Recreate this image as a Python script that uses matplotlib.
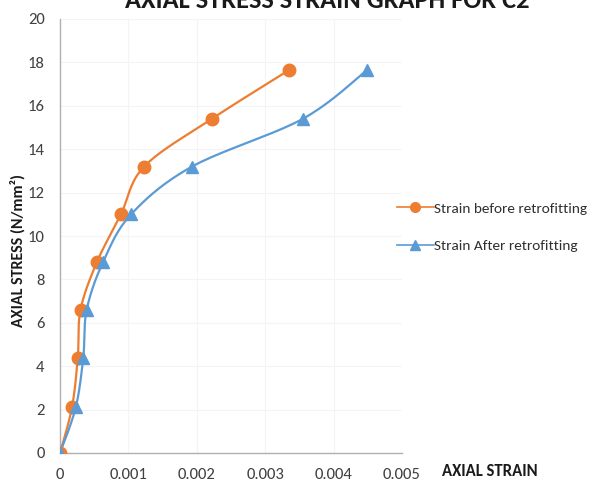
import numpy as np
import matplotlib
matplotlib.use("Agg")
import matplotlib.pyplot as plt
from matplotlib import font_manager

installed = {f.name for f in font_manager.fontManager.ttflist}
_preferred = ['Carlito', 'Calibri', 'Liberation Sans Narrow', 'Roboto Condensed',
              'Open Sans Condensed', 'Arial Narrow', 'DejaVu Sans']
FONT = next(f for f in _preferred if f in installed)
plt.rcParams['font.family'] = [FONT, 'DejaVu Sans']

stress = [0, 2.1, 4.4, 6.6, 8.8, 11.0, 13.2, 15.4, 17.65]
strain_before = [0, 0.000175, 0.00026, 0.0003, 0.00054, 0.00089, 0.00123, 0.00222, 0.00335]
strain_after = [0, 0.00023, 0.00034, 0.00039, 0.00063, 0.00104, 0.00193, 0.00355, 0.00449]
x_ticks = [0, 0.001, 0.002, 0.003, 0.004, 0.005]
x_tick_labels = ['0', '0.001', '0.002', '0.003', '0.004', '0.005']
y_ticks = [0, 2, 4, 6, 8, 10, 12, 14, 16, 18, 20]

ORANGE = '#ED7D31'
BLUE = '#5B9BD5'


def smooth(xs, ys, n=20):
    """Catmull-Rom curve through the given points (smoothed line style)."""
    p = np.column_stack([xs, ys]).astype(float)
    sx = 1.0 / 0.005
    sy = 1.0 / 20.0
    p[:, 0] *= sx
    p[:, 1] *= sy
    pts = np.vstack([p[0], p, p[-1]])
    out = []
    for i in range(1, len(pts) - 2):
        p0, p1, p2, p3 = pts[i - 1], pts[i], pts[i + 1], pts[i + 2]
        t = np.linspace(0, 1, n, endpoint=False)[:, None]
        seg = 0.5 * ((2 * p1) + (-p0 + p2) * t +
                     (2 * p0 - 5 * p1 + 4 * p2 - p3) * t ** 2 +
                     (-p0 + 3 * p1 - 3 * p2 + p3) * t ** 3)
        out.append(seg)
    out.append(p[-1][None, :])
    c = np.vstack(out)
    return c[:, 0] / sx, c[:, 1] / sy


fig = plt.figure(figsize=(5.9, 4.92), dpi=100)
ax = fig.add_axes([60 / 590, 1 - 453 / 492, (402 - 60) / 590, (453 - 19) / 492])

for xs, col, mk, lab in [(strain_before, ORANGE, 'o', 'Strain before retrofitting'),
                         (strain_after, BLUE, '^', 'Strain After retrofitting')]:
    cx, cy = smooth(xs, stress)
    ax.plot(cx, cy, color=col, lw=1.6, zorder=3)
    ax.plot(xs, stress, linestyle='none', marker=mk, ms=9, color=col, zorder=4)
    ax.plot([], [], color=col, lw=1.2, marker=mk, ms=7, label=lab)

ax.set_xlim(0, 0.005)
ax.set_ylim(0, 20)
ax.set_xticks(x_ticks)
ax.set_xticklabels(x_tick_labels)
ax.set_yticks(y_ticks)
ax.tick_params(length=0, labelsize=12, colors='#404040')
ax.tick_params(axis='x', pad=11)
ax.tick_params(axis='y', pad=11)
ax.grid(True, color='#f4f4f4', lw=0.8)
for s in ['top', 'right']:
    ax.spines[s].set_visible(False)
for s in ['left', 'bottom']:
    ax.spines[s].set_color('#b0b0b0')
    ax.spines[s].set_linewidth(1.0)
ax.set_axisbelow(True)

fig.text(0.555, 0.998, 'AXIAL STRESS STRAIN GRAPH FOR C2', ha='center', va='center',
         fontsize=19, fontweight='bold', color='#1a1a1a')
fig.text(0.03, 0.49, 'AXIAL STRESS (N/mm²)', rotation=90, ha='center', va='center',
         fontsize=11.5, fontweight='bold', color='#1a1a1a')
fig.text(490 / 590, 1 - 471 / 492, 'AXIAL STRAIN', ha='center', va='center',
         fontsize=12, fontweight='bold', color='#1a1a1a')

fig.legend(loc='center left', bbox_to_anchor=(397 / 590, 1 - 227 / 492), frameon=False,
           fontsize=11, handlelength=2.4, handletextpad=0.05, labelspacing=1.6,
           borderaxespad=0, borderpad=0, labelcolor='#303030')

fig.savefig('out.png', dpi=100)
